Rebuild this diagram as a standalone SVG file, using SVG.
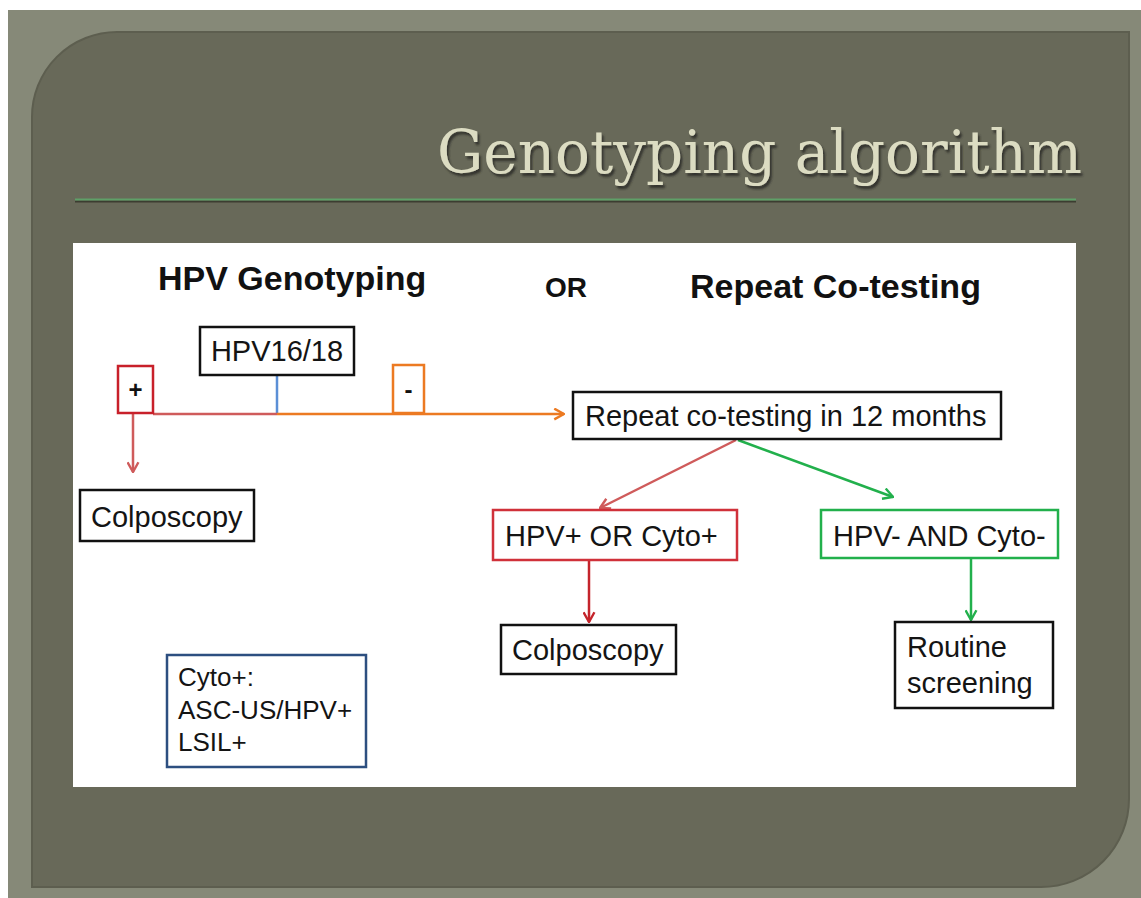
<svg xmlns="http://www.w3.org/2000/svg" width="1141" height="898" viewBox="0 0 1141 898">
<defs>
<style>
.bx{fill:#fff;stroke:#111;stroke-width:2.5}
.t{font-family:"Liberation Sans",Arial,sans-serif;font-size:29px;fill:#141414}
.s{font-family:"Liberation Sans",Arial,sans-serif;font-size:26px;fill:#141414}
.h{font-family:"Liberation Sans",Arial,sans-serif;font-weight:bold;fill:#111}
.c{fill:none;stroke-width:2.5}
</style>
<filter id="sh" x="-5%" y="-20%" width="110%" height="150%"><feDropShadow dx="2" dy="3" stdDeviation="1.2" flood-color="#2e2f25" flood-opacity="0.9"/></filter>
<marker id="mr" viewBox="0 0 12 12" refX="11" refY="6" markerWidth="13" markerHeight="13" orient="auto" markerUnits="userSpaceOnUse"><path d="M2,1 L11,6 L2,11" fill="none" stroke="#cf5b5b" stroke-width="2.2"/></marker>
<marker id="md" viewBox="0 0 12 12" refX="11" refY="6" markerWidth="13" markerHeight="13" orient="auto" markerUnits="userSpaceOnUse"><path d="M2,1 L11,6 L2,11" fill="none" stroke="#c4242b" stroke-width="2.2"/></marker>
<marker id="mo" viewBox="0 0 12 12" refX="11" refY="6" markerWidth="13" markerHeight="13" orient="auto" markerUnits="userSpaceOnUse"><path d="M2,1 L11,6 L2,11" fill="none" stroke="#ec7a22" stroke-width="2.2"/></marker>
<marker id="mg" viewBox="0 0 12 12" refX="11" refY="6" markerWidth="13" markerHeight="13" orient="auto" markerUnits="userSpaceOnUse"><path d="M2,1 L11,6 L2,11" fill="none" stroke="#22b04c" stroke-width="2.2"/></marker>
</defs>
<rect width="1141" height="898" fill="#fff"/>
<rect x="8" y="10" width="1133" height="888" fill="#868978"/>
<path d="M32,117 A85,85 0 0 1 117,32 L1129,32 L1129,799 A88,88 0 0 1 1041,887 L32,887 Z" fill="#686959" stroke="#5d5e4f" stroke-width="2"/>
<g id="title">
<text x="1082" y="173" text-anchor="end" font-family="'DejaVu Serif',serif" font-size="60" fill="#dcdcc2" textLength="645" lengthAdjust="spacingAndGlyphs" filter="url(#sh)">Genotyping algorithm</text>
</g>
<line x1="75" y1="201.5" x2="1076" y2="201.5" stroke="#3c3d31" stroke-width="2"/>
<line x1="75" y1="199.5" x2="1076" y2="199.5" stroke="#5fa068" stroke-width="2"/>
<rect x="73" y="243" width="1003" height="544" fill="#fff"/>
<g id="headings">
<text class="h" x="158" y="290" font-size="34">HPV Genotyping</text>
<text class="h" x="545" y="297" font-size="28">OR</text>
<text class="h" x="690" y="298" font-size="34">Repeat Co-testing</text>
</g>
<g id="connectors">
<line class="c" x1="277" y1="375" x2="277" y2="414" stroke="#5b8fd6"/>
<line class="c" x1="153" y1="414" x2="277" y2="414" stroke="#cf5b5b"/>
<line class="c" x1="277" y1="414" x2="564" y2="414" stroke="#ec7a22" marker-end="url(#mo)"/>
<line class="c" x1="133" y1="413" x2="133" y2="472" stroke="#cf5b5b" marker-end="url(#mr)"/>
<line class="c" x1="736" y1="440" x2="600" y2="508" stroke="#cf5b5b" marker-end="url(#mr)"/>
<line class="c" x1="738" y1="440" x2="893" y2="497" stroke="#22b04c" marker-end="url(#mg)"/>
<line class="c" x1="589" y1="560" x2="589" y2="622" stroke="#c4242b" marker-end="url(#md)"/>
<line class="c" x1="971" y1="558" x2="971" y2="620" stroke="#22b04c" marker-end="url(#mg)"/>
</g>
<g id="hpv1618">
<rect class="bx" x="200" y="327" width="154" height="48"/>
<text class="t" x="277" y="361" text-anchor="middle">HPV16/18</text>
</g>
<g id="plus">
<rect x="118" y="366" width="35" height="47" fill="#fff" stroke="#c8202a" stroke-width="2.5"/>
<text class="h" x="135.5" y="398" font-size="24" text-anchor="middle">+</text>
</g>
<g id="minus">
<rect x="393" y="365" width="31" height="48" fill="#fff" stroke="#ec7a22" stroke-width="2.5"/>
<text class="h" x="408.5" y="398" font-size="24" text-anchor="middle">-</text>
</g>
<g id="colpo1">
<rect class="bx" x="80" y="490" width="174" height="51"/>
<text class="t" x="91" y="527">Colposcopy</text>
</g>
<g id="repeat">
<rect class="bx" x="573" y="392" width="428" height="47"/>
<text class="t" x="585" y="426">Repeat co-testing in 12 months</text>
</g>
<g id="pos">
<rect x="493" y="510" width="244" height="50" fill="#fff" stroke="#d0313a" stroke-width="2.5"/>
<text class="t" x="505" y="546">HPV+ OR Cyto+</text>
</g>
<g id="neg">
<rect x="821" y="510" width="237" height="48" fill="#fff" stroke="#22b04c" stroke-width="2.5"/>
<text class="t" x="833" y="546">HPV- AND Cyto-</text>
</g>
<g id="colpo2">
<rect class="bx" x="501" y="625" width="175" height="49"/>
<text class="t" x="512" y="660">Colposcopy</text>
</g>
<g id="routine">
<rect class="bx" x="895" y="622" width="158" height="86"/>
<text class="t" x="907" y="657">Routine</text>
<text class="t" x="907" y="693">screening</text>
</g>
<g id="cyto">
<rect x="167" y="655" width="199" height="112" fill="#fff" stroke="#2d4f80" stroke-width="2.5"/>
<text class="s" x="178" y="686">Cyto+:</text>
<text class="s" x="178" y="719">ASC-US/HPV+</text>
<text class="s" x="178" y="751">LSIL+</text>
</g>
</svg>
